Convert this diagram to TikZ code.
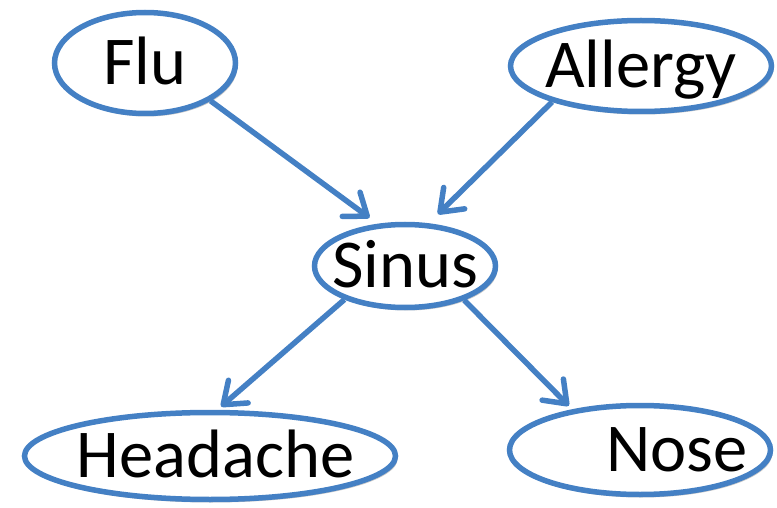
\documentclass[tikz,border=0pt]{standalone}
\usepackage{fontspec}
\setmainfont{Carlito}
\usetikzlibrary{arrows.meta,shadows,shapes.geometric}
\definecolor{nodeblue}{RGB}{68,128,196}
\begin{document}
\begin{tikzpicture}[x=1pt,y=-1pt,
  bnode/.style={ellipse, draw=nodeblue, line width=5.5pt, fill=white, inner sep=0pt,
    text height=43pt, text depth=0pt, font=\fontsize{68.5}{72}\selectfont,
    drop shadow={shadow xshift=2pt, shadow yshift=-3pt, opacity=0.22, fill=black}},
  link/.style={draw=nodeblue, line width=5.5pt,
    -{Straight Barb[length=20pt,width=30pt,round]}}]
\useasboundingbox (0,0) rectangle (777,508);
\node[bnode, minimum width=181pt, minimum height=101pt] (flu) at (145,63) {\makebox[0pt]{Flu}};
\node[bnode, minimum width=261pt, minimum height=91pt] (allergy) at (641,66) {\makebox[0pt]{Allergy}};
\node[bnode, minimum width=181pt, minimum height=83pt] (sinus) at (405,266) {\makebox[0pt]{Sinus}};
\node[bnode, minimum width=371pt, minimum height=87pt] (headache) at (210,456) {\makebox[0pt]{\hspace{11pt}Headache}};
\node[bnode, minimum width=261pt, minimum height=89pt] (nose) at (640,450) {\makebox[0pt]{\hspace{74pt}Nose}};
\path[link, shorten >=10pt] (flu.-30) -- (sinus.123);
\path[link, shorten >=13pt] (allergy.202) -- (sinus.61);
\path[link, shorten >=5pt] (sinus.209) -- (headache.81);
\path[link, shorten >=5pt] (sinus.-30) -- (nose.149);
\end{tikzpicture}
\end{document}
